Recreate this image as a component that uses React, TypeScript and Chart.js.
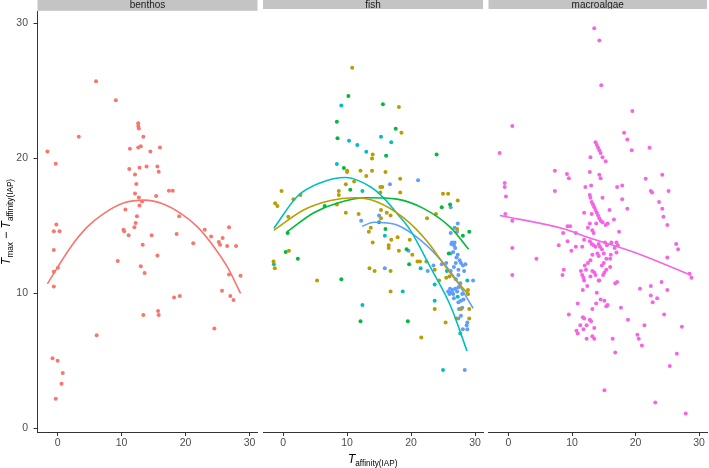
import React, { useEffect, useRef } from "react";
import { Chart, registerables } from "chart.js";
Chart.register(...registerables);

type P = [number, number];

// ---- axis settings ----
const X_MIN = -3.15;
const X_MAX = 31.25;
const Y_MIN = -0.27;
const Y_MAX = 30.85;
const xTickValues = [0, 10, 20, 30];
const yTickValues = [0, 10, 20, 30];
const facetLabels = ["benthos", "fish", "macroalgae"];

// ---- colours ----
const COL_BENTHOS = "#F8766D";
const COL_FISH_A = "#B79F00";
const COL_FISH_B = "#00BA38";
const COL_FISH_C = "#00BFC4";
const COL_FISH_D = "#619CFF";
const COL_MACRO = "#F564E3";

// ---- benthos ----
const benthosPts: P[] = [
  [6.0, 25.7], [9.1, 24.3], [12.6, 22.6], [12.6, 22.4], [12.7, 22.2], [3.3, 21.6], [13.4, 21.6],
  [-1.6, 20.5], [11.3, 20.7], [12.6, 20.8], [13.0, 20.9], [14.5, 20.5], [16.0, 20.8], [-0.3, 19.6],
  [11.2, 19.2], [12.8, 19.3], [13.9, 19.4], [15.6, 19.4], [15.8, 19.0], [12.1, 18.8], [12.3, 18.1],
  [12.1, 17.4], [17.4, 17.6], [18.0, 17.6], [12.7, 17.1], [15.4, 17.2], [13.2, 16.8], [12.8, 16.5],
  [10.6, 16.2], [12.4, 15.7], [19.0, 15.7], [12.2, 15.2], [-0.2, 15.1], [12.0, 14.9], [26.8, 14.9],
  [-0.6, 14.6], [0.3, 14.6], [10.3, 14.7], [10.4, 14.6], [23.0, 14.7], [11.1, 14.3], [14.7, 14.3],
  [18.6, 14.4], [24.0, 14.2], [25.8, 14.1], [25.2, 13.8], [25.4, 13.6], [21.2, 13.7], [26.5, 13.5],
  [27.9, 13.5], [13.3, 13.6], [-0.6, 13.2], [15.6, 12.8], [9.4, 12.4], [13.0, 12.0], [0.05, 11.9],
  [-0.6, 11.6], [13.6, 11.5], [26.8, 11.4], [28.6, 11.3], [-0.6, 10.5], [25.7, 10.2], [18.2, 9.7],
  [19.1, 9.8], [27.0, 9.8], [27.5, 9.5], [13.4, 8.4], [15.7, 8.7], [15.8, 8.4], [24.5, 7.4],
  [6.1, 6.9], [-0.8, 5.2], [0.0, 5.0], [0.8, 4.1], [0.6, 3.3], [-0.3, 2.2],
];
const benthosFit: P[] = [
  [-1.6, 10.7], [2.0, 13.4], [4.6, 14.9], [7.2, 15.9], [10.4, 16.7], [13.5, 16.9], [16.6, 16.6],
  [19.3, 15.9], [21.9, 14.9], [24.5, 13.4], [26.6, 11.9], [28.6, 10.0],
];

// ---- fish (four groups) ----
const fishAPts: P[] = [
  [10.8, 26.6], [18.1, 23.7], [18.5, 21.8], [14.0, 20.2], [13.9, 19.9], [10.0, 19.0], [10.0, 18.9],
  [12.1, 19.0], [13.9, 19.0], [16.0, 18.9], [13.0, 18.6], [18.3, 18.4], [11.1, 18.2], [9.8, 18.0],
  [15.2, 17.8], [15.5, 17.8], [-0.25, 17.5], [8.7, 17.5], [15.2, 17.4], [18.3, 17.4], [25.0, 17.3],
  [25.8, 17.3], [8.7, 17.2], [1.6, 16.9], [2.7, 17.2], [27.3, 16.8], [-1.25, 16.6], [-0.9, 16.4],
  [8.4, 16.5], [9.8, 15.9], [11.8, 15.8], [16.2, 15.9], [16.8, 15.7], [15.3, 16.1], [15.3, 15.5],
  [0.8, 15.6], [22.5, 15.5], [23.9, 15.8], [13.7, 14.8], [27.2, 14.7], [13.4, 14.5], [14.0, 13.7],
  [16.9, 13.9], [17.9, 14.1], [19.8, 13.9], [16.5, 13.5], [16.5, 13.3], [18.1, 13.1], [20.2, 12.8],
  [0.9, 13.1], [-1.5, 12.3], [-1.3, 11.8], [21.0, 12.3], [21.4, 12.3], [22.4, 12.3], [13.5, 11.8],
  [14.3, 11.6], [16.8, 11.6], [23.7, 11.7], [24.4, 10.9], [25.5, 11.1], [26.0, 11.2], [5.3, 10.9],
  [16.8, 10.1], [28.9, 9.9], [28.9, 10.2], [23.7, 8.8], [27.8, 8.8], [29.1, 8.8], [27.1, 8.1],
  [29.1, 8.1], [25.4, 7.8], [21.6, 6.7],
];
const fishBPts: P[] = [
  [10.2, 24.5], [15.6, 23.9], [8.4, 22.6], [17.6, 22.1], [8.5, 21.4], [16.1, 20.1], [24.0, 20.2],
  [9.5, 19.2], [10.5, 17.6], [26.1, 16.5], [24.8, 16.3], [6.5, 16.4], [15.0, 15.2], [16.0, 14.7],
  [28.1, 14.2], [29.1, 14.5], [0.7, 14.4], [19.3, 13.2], [0.4, 13.0], [2.3, 12.5], [25.9, 12.9],
  [19.7, 12.1], [9.1, 11.0], [12.1, 7.9], [19.5, 7.9],
];
const fishCPts: P[] = [
  [9.1, 23.8], [10.3, 21.2], [11.6, 20.9], [15.3, 21.5], [16.9, 21.1], [13.0, 20.4], [8.4, 19.5],
  [12.4, 17.5], [15.9, 14.2], [-1.45, 12.1], [21.5, 11.8], [28.8, 10.9], [23.7, 10.6], [18.7, 10.1],
  [27.3, 9.7], [23.7, 9.4], [12.4, 9.1], [27.7, 7.0], [25.0, 4.3], [25.6, 11.6],
];
const fishDPts: P[] = [
  [21.1, 18.3], [16.7, 18.0], [26.2, 16.3], [12.2, 15.3], [15.0, 15.7], [27.3, 15.1], [26.8, 14.8],
  [27.2, 14.5], [26.2, 14.4], [26.4, 13.7], [26.8, 13.7], [19.6, 13.1], [15.9, 11.8], [22.6, 11.6],
  [23.5, 12.0], [24.8, 12.1], [25.5, 12.2], [29.7, 10.9], [28.4, 4.3],
  [26.3, 13.6], [26.7, 13.5], [26.9, 13.3], [26.2, 12.9], [26.6, 13.0], [27.3, 12.8], [27.6, 12.4],
  [27.1, 12.6], [27.8, 12.2], [28.1, 12.0], [28.5, 12.1], [27.0, 12.2], [26.7, 11.9], [27.4, 11.7],
  [26.2, 11.6], [28.3, 11.6], [27.4, 11.3], [27.0, 11.0], [27.7, 10.7], [26.9, 10.3], [26.5, 10.2],
  [27.2, 10.1], [27.4, 10.4], [28.0, 9.9], [26.7, 9.6], [27.4, 9.3], [27.8, 9.4], [28.2, 9.5],
  [27.5, 8.8], [28.0, 8.9], [27.8, 8.3], [27.4, 8.1], [28.8, 7.8], [28.7, 7.6], [28.1, 7.3],
  [28.8, 7.3], [26.1, 10.3], [26.3, 10.0], [26.6, 9.9], [26.0, 9.9], [25.8, 10.1],
];
const fishAFit: P[] = [
  [-1.45, 14.6], [3.2, 16.1], [7.4, 16.8], [11.05, 17.0], [14.7, 16.7], [18.9, 15.5], [22.5, 13.8],
  [26.2, 11.4], [29.1, 9.8],
];
const fishBFit: P[] = [
  [0.6, 14.5], [4.8, 15.9], [8.4, 16.6], [13.1, 17.0], [17.8, 16.9], [22.0, 16.2], [26.2, 14.8], [29.0, 13.2],
];
const fishCFit: P[] = [
  [-1.45, 14.75], [2.2, 17.1], [5.8, 18.1], [9.75, 18.5], [13.7, 17.8], [15.7, 17.0], [17.8, 15.85],
  [19.9, 14.6], [23.0, 11.9], [26.2, 9.0], [28.75, 5.7],
];
const fishDFit: P[] = [
  [12.35, 14.9], [14.2, 15.2], [17.8, 15.0], [20.9, 14.1], [24.1, 12.7], [26.7, 11.2], [29.7, 8.85],
];

// ---- macroalgae ----
const macroPts: P[] = [
  [13.5, 29.5], [14.3, 28.6], [14.6, 25.3], [19.5, 23.4], [0.6, 22.3], [18.2, 21.8], [18.7, 21.3],
  [19.4, 20.5], [22.2, 20.7], [-1.4, 20.3], [13.7, 21.1], [13.9, 20.9], [14.1, 20.7], [14.3, 20.5],
  [14.5, 20.3], [14.8, 20.0], [15.3, 19.7], [12.9, 20.0], [7.3, 19.0], [9.2, 18.75], [9.5, 18.45],
  [12.8, 18.9], [14.3, 18.7], [14.5, 18.45], [24.2, 18.7], [21.6, 18.4], [-0.6, 18.1], [-0.6, 17.8],
  [12.1, 17.8], [13.0, 17.9], [17.1, 17.8], [17.9, 17.9], [22.4, 17.5], [22.6, 17.4], [25.2, 17.5],
  [7.3, 17.5], [-0.4, 17.1], [12.8, 17.2], [12.9, 17.0], [14.8, 17.0], [17.9, 16.9], [13.1, 16.7],
  [13.3, 16.5], [13.5, 16.3], [13.7, 16.1], [13.9, 15.9], [14.1, 15.7], [14.3, 15.5], [23.7, 16.7],
  [24.2, 16.2], [11.9, 15.9], [15.9, 16.1], [18.7, 16.2], [13.1, 15.8], [-0.5, 15.8], [24.4, 15.6],
  [16.6, 15.4], [0.6, 15.3], [14.5, 15.3], [14.8, 15.2], [15.3, 15.0], [15.6, 15.1], [13.8, 15.1],
  [12.8, 15.1], [12.5, 14.8], [9.3, 14.9], [9.7, 14.9], [25.0, 15.0], [17.4, 14.5], [8.6, 14.4],
  [10.6, 14.4], [13.2, 14.6], [13.4, 14.4], [11.9, 13.9], [12.8, 13.8], [13.1, 13.6], [13.4, 13.5],
  [13.7, 13.4], [9.3, 13.8], [7.9, 13.5], [10.6, 13.4], [11.6, 13.4], [9.9, 13.1], [14.2, 13.6],
  [14.4, 13.4], [14.7, 13.2], [16.2, 13.7], [17.0, 13.7], [17.2, 13.5], [16.7, 13.3], [17.0, 12.96],
  [15.2, 13.7], [15.5, 13.5], [0.6, 13.3], [26.4, 13.6], [26.7, 13.2], [4.4, 12.5], [13.2, 12.8],
  [14.0, 12.9], [14.2, 12.7], [15.0, 12.9], [15.4, 12.5], [16.1, 12.8], [16.0, 12.5], [25.0, 12.6],
  [12.0, 12.0], [12.5, 12.2], [12.9, 12.4], [12.2, 11.7], [11.4, 11.6], [11.6, 11.3], [11.8, 11.1],
  [11.9, 10.9], [13.2, 11.6], [13.5, 11.5], [13.7, 11.3], [15.0, 12.2], [14.7, 12.0], [15.4, 11.7],
  [15.1, 11.5], [14.9, 11.3], [16.0, 11.9], [8.7, 11.7], [0.6, 11.3], [8.5, 11.3], [12.9, 11.2],
  [14.2, 10.9], [14.3, 10.9], [16.8, 10.7], [17.1, 10.8], [28.5, 11.4], [28.8, 11.1], [24.1, 10.8],
  [22.4, 10.5], [12.4, 10.5], [20.7, 10.3], [25.0, 10.2], [11.7, 10.2], [13.9, 10.0], [22.4, 9.8],
  [22.7, 9.3], [23.4, 9.6], [14.5, 9.5], [15.1, 9.4], [15.6, 9.1], [15.4, 9.0], [13.8, 9.2],
  [10.9, 9.2], [13.2, 8.8], [17.7, 8.9], [9.5, 8.4], [24.5, 8.4], [11.7, 8.2], [11.9, 8.1],
  [12.8, 8.0], [13.0, 7.9], [18.8, 8.0], [11.3, 7.6], [12.3, 7.6], [13.5, 7.4], [21.4, 7.6],
  [27.3, 7.5], [10.7, 7.2], [10.9, 7.0], [11.8, 7.3], [20.3, 6.9], [20.5, 6.6], [13.2, 6.8],
  [13.5, 6.6], [12.3, 6.6], [16.4, 6.6], [21.0, 6.1], [16.8, 5.6], [26.5, 5.5], [25.4, 4.6],
  [15.1, 2.8], [23.1, 1.9], [27.9, 1.1],
];
const macroFit: P[] = [[-1.35, 15.7], [8.8, 14.7], [12.45, 14.1], [20.3, 12.9], [28.7, 11.3]];

// ---- helpers ----
const FONT = '"Liberation Sans", Arial, Helvetica, sans-serif';
const toXY = (arr: P[]) => arr.map(([x, y]) => ({ x, y }));

const pointSet = (arr: P[], color: string) => ({
  data: toXY(arr),
  backgroundColor: color,
  borderWidth: 0,
  pointRadius: 2,
  pointHoverRadius: 2,
  showLine: false,
  order: 1,
});
const fitSet = (arr: P[], color: string) => ({
  data: toXY(arr),
  borderColor: color,
  backgroundColor: color,
  borderWidth: 1.6,
  pointRadius: 0,
  showLine: true,
  cubicInterpolationMode: "monotone",
  order: 0,
});

type Seg = { t: string; sub?: boolean; italic?: boolean };
function drawRich(ctx: CanvasRenderingContext2D, segs: Seg[], cx: number, baseY: number) {
  const mainSize = 12;
  const subSize = 8.2;
  const fontOf = (s: Seg) => `${s.italic ? "italic " : ""}${s.sub ? subSize : mainSize}px ${FONT}`;
  let total = 0;
  const widths = segs.map((s) => {
    ctx.font = fontOf(s);
    const w = ctx.measureText(s.t).width;
    total += w;
    return w;
  });
  let x = cx - total / 2;
  ctx.fillStyle = "#000000";
  ctx.textAlign = "left";
  ctx.textBaseline = "alphabetic";
  segs.forEach((s, i) => {
    ctx.font = fontOf(s);
    ctx.fillText(s.t, x, baseY + (s.sub ? 2.6 : 0));
    x += widths[i];
  });
}

const yTitleSegs: Seg[] = [
  { t: "T", italic: true },
  { t: "max", sub: true },
  { t: " \u2212 " },
  { t: "T", italic: true },
  { t: "affinity(IAP)", sub: true },
];
const xTitleSegs: Seg[] = [
  { t: "T", italic: true },
  { t: "affinity(IAP)", sub: true },
];

const stripPlugin = (label: string) => ({
  id: "strip",
  afterDraw(chart: any) {
    const { ctx, chartArea } = chart;
    const { left, right, top } = chartArea;
    ctx.save();
    ctx.fillStyle = "#C4C4C4";
    ctx.fillRect(left, 0, right - left, top - 1);
    ctx.beginPath();
    ctx.rect(left, 0, right - left, top - 1);
    ctx.clip();
    ctx.fillStyle = "#1A1A1A";
    ctx.font = `10px ${FONT}`;
    ctx.textAlign = "center";
    ctx.textBaseline = "alphabetic";
    ctx.fillText(label, (left + right) / 2, 7.8);
    ctx.restore();
  },
});

const yTitlePlugin = {
  id: "ytitle",
  afterDraw(chart: any) {
    const { ctx, chartArea } = chart;
    const midY = (chartArea.top + chartArea.bottom) / 2;
    ctx.save();
    ctx.translate(10, midY);
    ctx.rotate(-Math.PI / 2);
    drawRich(ctx, yTitleSegs, 0, 0);
    ctx.restore();
  },
};

const xTitlePlugin = (centerX: number) => ({
  id: "xtitle",
  afterDraw(chart: any) {
    const { ctx } = chart;
    ctx.save();
    drawRich(ctx, xTitleSegs, centerX, 463);
    ctx.restore();
  },
});

type PanelDef = {
  left: number;
  width: number;
  padLeft: number;
  padRight: number;
  showY: boolean;
  label: string;
  datasets: any[];
  extraPlugins: any[];
};

function buildChart(canvas: HTMLCanvasElement, def: PanelDef) {
  const tickFont = { family: FONT, size: 10.5 };
  return new Chart(canvas, {
    type: "scatter",
    data: { datasets: def.datasets },
    options: {
      responsive: false,
      animation: false,
      events: [],
      layout: { padding: { top: 10, left: def.padLeft, right: def.padRight, bottom: 0 } },
      plugins: { legend: { display: false }, tooltip: { enabled: false } },
      scales: {
        x: {
          type: "linear",
          min: X_MIN,
          max: X_MAX,
          afterBuildTicks: (s: any) => {
            s.ticks = xTickValues.map((v) => ({ value: v }));
          },
          afterFit: (s: any) => {
            s.height = 36;
          },
          ticks: { color: "#4D4D4D", font: tickFont, padding: 1, maxRotation: 0, autoSkip: false },
          grid: { display: true, drawOnChartArea: false, drawTicks: true, tickLength: 4, color: "#333333" },
          border: { display: true, color: "#333333", width: 1 },
        },
        y: {
          type: "linear",
          display: def.showY,
          min: Y_MIN,
          max: Y_MAX,
          afterBuildTicks: (s: any) => {
            s.ticks = yTickValues.map((v) => ({ value: v }));
          },
          afterFit: (s: any) => {
            s.width = def.showY ? 37.5 : 0;
          },
          ticks: { color: "#4D4D4D", font: tickFont, padding: 5.5, autoSkip: false },
          grid: { display: true, drawOnChartArea: false, drawTicks: true, tickLength: 4, color: "#333333" },
          border: { display: true, color: "#333333", width: 1 },
        },
      },
    } as any,
    plugins: [stripPlugin(def.label), ...def.extraPlugins],
  });
}

const PANELS: PanelDef[] = [
  {
    left: 0,
    width: 262,
    padLeft: 0,
    padRight: 4.5,
    showY: true,
    label: facetLabels[0],
    datasets: [fitSet(benthosFit, COL_BENTHOS), pointSet(benthosPts, COL_BENTHOS)],
    extraPlugins: [yTitlePlugin],
  },
  {
    left: 260,
    width: 225,
    padLeft: 3,
    padRight: 2,
    showY: false,
    label: facetLabels[1],
    datasets: [
      fitSet(fishAFit, COL_FISH_A),
      fitSet(fishBFit, COL_FISH_B),
      fitSet(fishCFit, COL_FISH_C),
      fitSet(fishDFit, COL_FISH_D),
      pointSet(fishAPts, COL_FISH_A),
      pointSet(fishBPts, COL_FISH_B),
      pointSet(fishCPts, COL_FISH_C),
      pointSet(fishDPts, COL_FISH_D),
    ],
    extraPlugins: [xTitlePlugin(372.7 - 260)],
  },
  {
    left: 485,
    width: 224,
    padLeft: 3.5,
    padRight: 0.5,
    showY: false,
    label: facetLabels[2],
    datasets: [fitSet(macroFit, COL_MACRO), pointSet(macroPts, COL_MACRO)],
    extraPlugins: [],
  },
];

function Panel({ def }: { def: PanelDef }) {
  const ref = useRef<HTMLCanvasElement | null>(null);
  useEffect(() => {
    if (!ref.current) return;
    const chart = buildChart(ref.current, def);
    return () => chart.destroy();
  }, [def]);
  return (
    <canvas
      ref={ref}
      width={def.width}
      height={468}
      style={{ position: "absolute", left: def.left, top: 0, width: def.width, height: 468 }}
    />
  );
}

export default function App() {
  useEffect(() => {
    document.body.style.margin = "0";
  }, []);
  return (
    <div style={{ position: "fixed", left: 0, top: 0, width: 709, height: 468, background: "#ffffff", overflow: "hidden" }}>
      {PANELS.map((p, i) => (
        <Panel key={i} def={p} />
      ))}
    </div>
  );
}
